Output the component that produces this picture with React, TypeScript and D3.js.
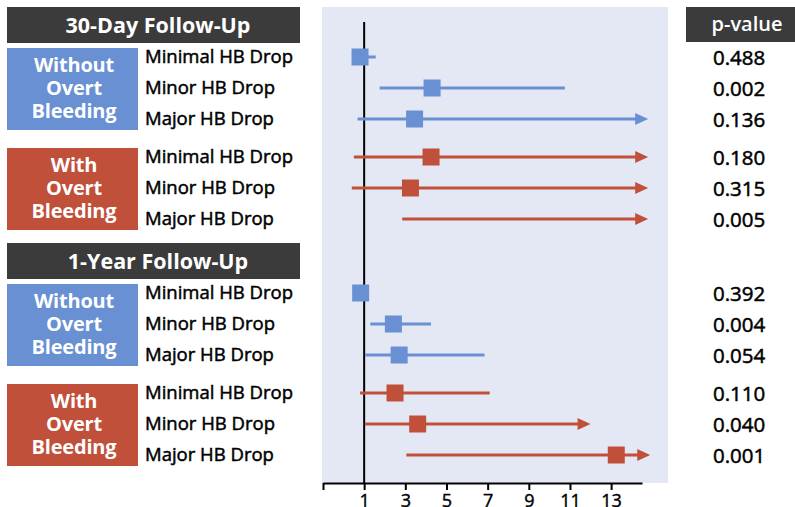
import React, { useRef, useEffect } from 'react';
import * as d3 from 'd3';

// sections / groups / rows
const sections = ['30-Day Follow-Up', '1-Year Follow-Up'];
const groups = [['Without', 'Overt', 'Bleeding'], ['With', 'Overt', 'Bleeding']];
const rowLabels = ['Minimal HB Drop', 'Minor HB Drop', 'Major HB Drop'];

// odds ratio estimates (null = off the chart), lower / upper CI, arrow = CI goes past the axis
const estimate = [0.8, 4.3, 3.45, 4.25, 3.25, null, 0.83, 2.42, 2.7, 2.5, 3.6, 13.25];
const lower = [0.7, 1.75, 0.68, 0.5, 0.4, 2.85, 0.75, 1.3, 1.05, 0.8, 1.05, 3.05];
const upper = [1.56, 10.75, 14.8, 14.8, 14.8, 14.8, 1.0, 4.25, 6.85, 7.1, 12.0, 14.9];
const arrow = [false, false, true, true, true, true, false, false, false, false, true, true];
const pValues = ['0.488', '0.002', '0.136', '0.180', '0.315', '0.005', '0.392', '0.004', '0.054', '0.110', '0.040', '0.001'];
const tickValues = [-1, 1, 3, 5, 7, 9, 11, 13];

const BLUE = '#6890d2';
const RED = '#c1503b';
const DARK = '#3b3b3b';
const FONT = "'Open Sans', sans-serif";

export default function App() {
  const ref = useRef<SVGSVGElement>(null);

  useEffect(() => {
    const width = 795;
    const height = 507;
    const svg = d3.select(ref.current).html('').attr('width', width).attr('height', height);

    const x = d3.scaleLinear().domain([-1, 14.5]).range([323, 642]);
    const axisY = 483;

    // row y position
    const rowY = (i: number) => {
      const s = Math.floor(i / 6);
      const g = Math.floor((i % 6) / 3);
      const r = i % 3;
      return 57 + s * 236 + g * 100 + r * 31;
    };
    const colorOf = (i: number) => (Math.floor((i % 6) / 3) === 0 ? BLUE : RED);

    // plot background
    svg.append('rect')
      .attr('x', 322).attr('y', 7)
      .attr('width', 346).attr('height', axisY - 7)
      .attr('fill', '#e4e8f5');

    // left panel: section headers and group boxes
    sections.forEach((s, si) => {
      const top = rowY(si * 6);
      svg.append('rect')
        .attr('x', 7).attr('y', top - 50)
        .attr('width', 293).attr('height', 36)
        .attr('fill', DARK);
      svg.append('text')
        .attr('x', 158).attr('y', top - 24)
        .attr('text-anchor', 'middle')
        .attr('fill', 'white')
        .style('font', `bold 21.5px ${FONT}`)
        .text(s);

      groups.forEach((lines, gi) => {
        const y0 = rowY(si * 6 + gi * 3);
        svg.append('rect')
          .attr('x', 7).attr('y', y0 - 9)
          .attr('width', 131).attr('height', 82)
          .attr('fill', gi === 0 ? BLUE : RED);
        lines.forEach((t, li) => {
          svg.append('text')
            .attr('x', 74).attr('y', y0 + 15 + li * 23)
            .attr('text-anchor', 'middle')
            .attr('fill', 'white')
            .style('font', `bold 20px ${FONT}`)
            .style('letter-spacing', '-0.2px')
            .text(t);
        });
      });
    });

    // row labels (slight stroke for a medium weight)
    pValues.forEach((p, i) => {
      svg.append('text')
        .attr('x', 145).attr('y', rowY(i) + 6)
        .attr('fill', 'black')
        .attr('stroke', 'black').attr('stroke-width', 0.5)
        .style('font', `18.5px ${FONT}`)
        .text(rowLabels[i % 3]);
    });

    // p-value column
    svg.append('rect')
      .attr('x', 686).attr('y', 7)
      .attr('width', 109).attr('height', 35)
      .attr('fill', DARK);
    svg.append('text')
      .attr('x', 747).attr('y', 31)
      .attr('text-anchor', 'middle')
      .attr('fill', 'white')
      .style('font', `600 20px ${FONT}`)
      .text('p-value');
    svg.selectAll('.pval')
      .data(pValues)
      .enter()
      .append('text')
      .attr('class', 'pval')
      .attr('x', 713)
      .attr('y', (d, i) => rowY(i) + 8)
      .attr('fill', 'black')
      .attr('stroke', 'black').attr('stroke-width', 0.5)
      .style('font', `20.5px ${FONT}`)
      .text(d => d);

    // reference line at 1
    svg.append('line')
      .attr('x1', x(1)).attr('x2', x(1))
      .attr('y1', 22).attr('y2', axisY)
      .attr('stroke', 'black').attr('stroke-width', 2);

    // CI lines
    const g = svg.append('g');
    pValues.forEach((_, i) => {
      const y = rowY(i);
      const c = colorOf(i);
      const x1 = x(lower[i]);
      const x2 = x(upper[i]);
      g.append('line')
        .attr('x1', x1).attr('x2', arrow[i] ? x2 - 10 : x2)
        .attr('y1', y).attr('y2', y)
        .attr('stroke', c).attr('stroke-width', 3);
      if (arrow[i]) {
        g.append('path')
          .attr('d', `M${x2},${y}L${x2 - 13},${y - 6}L${x2 - 13},${y + 6}Z`)
          .attr('fill', c);
      }
      const e = estimate[i];
      if (e !== null) {
        g.append('rect')
          .attr('x', x(e) - 8.5).attr('y', y - 8.5)
          .attr('width', 17).attr('height', 17)
          .attr('fill', c);
      }
    });

    // x axis
    const ax = svg.append('g')
      .attr('transform', `translate(0, ${axisY})`)
      .call(
        d3.axisBottom(x)
          .tickValues(tickValues)
          .tickSize(7)
          .tickSizeOuter(0)
          .tickFormat(d => ((d as number) < 0 ? '' : String(d)))
      );
    ax.select('.domain').attr('stroke', 'black').attr('stroke-width', 2);
    ax.selectAll('.tick line').attr('stroke', 'black').attr('stroke-width', 2);
    ax.selectAll('.tick text')
      .attr('fill', 'black')
      .attr('stroke', 'black').attr('stroke-width', 0.4)
      .attr('dy', '0.8em')
      .style('font', `18px ${FONT}`);
  }, []);

  return (
    <div>
      <svg ref={ref} style={{ position: 'absolute', left: 0, top: 0, background: 'white' }}></svg>
    </div>
  );
}
